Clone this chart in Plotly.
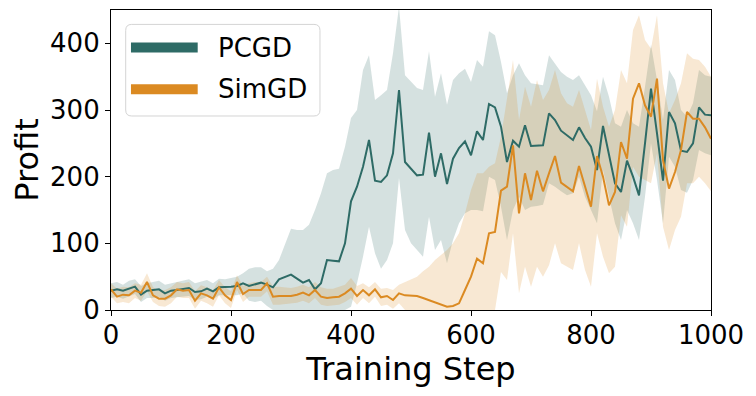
import plotly.graph_objects as go

# training steps (every 10 steps)
steps = list(range(0, 1001, 10))

pcgd_mean = [
    29, 31, 29, 32, 35, 23, 29, 30, 31, 25,
    29, 30, 31, 33, 27, 28, 32, 28, 34, 34,
    35, 36, 40, 36, 38, 41, 38, 34, 46, 50,
    53, 47, 41, 45, 31, 40, 75, 74, 73, 100,
    163, 185, 215, 255, 194, 192, 202, 235, 330, 222,
    212, 202, 203, 266, 200, 235, 189, 227, 243, 253,
    232, 268, 255, 309, 304, 275, 222, 254, 245, 277,
    246, 247, 247, 295, 285, 269, 262, 255, 274, 258,
    245, 210, 276, 235, 190, 177, 224, 200, 172, 250,
    332, 265, 194, 297, 280, 239, 237, 250, 304, 293, 292,
]
pcgd_upper = [
    40, 42, 38, 44, 46, 36, 40, 42, 44, 38,
    40, 42, 44, 46, 40, 42, 45, 40, 47, 46,
    48, 50, 55, 62, 64, 64, 58, 62, 75, 100,
    122, 120, 120, 128, 150, 175, 205, 210, 212, 245,
    288, 300, 360, 382, 315, 322, 330, 385, 455, 352,
    342, 333, 330, 388, 320, 355, 308, 345, 355, 362,
    342, 375, 365, 418, 412, 372, 325, 352, 370, 352,
    340, 339, 337, 382, 370, 357, 350, 345, 352, 337,
    322, 298, 350, 320, 280, 275, 300, 280, 275, 335,
    398, 345, 285, 360, 345, 300, 290, 310, 360, 352, 350,
]
pcgd_lower = [
    18, 20, 17, 20, 24, 12, 18, 18, 20, 14,
    18, 19, 20, 21, 15, 16, 20, 16, 22, 22,
    22, 22, 25, 14, 12, 14, 6, 0, 0, 0,
    0, 0, 0, 0, 0, 0, 0, 0, 0, 0,
    5, 40, 80, 125, 85, 62, 75, 100, 198, 120,
    100, 90, 80, 140, 90, 105, 70, 105, 130, 145,
    150, 150, 148, 200, 195, 155, 105, 150, 170, 150,
    155, 156, 158, 190, 185, 178, 172, 175, 200, 170,
    150, 130, 210, 170, 130, 105, 150, 130, 105, 170,
    250, 195, 130, 230, 215, 180, 176, 195, 240, 235, 232,
]

simgd_mean = [
    31, 20, 23, 22, 29, 26, 42, 22, 17, 17,
    22, 31, 29, 30, 14, 25, 22, 17, 34, 22,
    15, 42, 24, 30, 30, 30, 40, 20, 21, 21,
    21, 23, 26, 22, 30, 20, 18, 19, 20, 25,
    32, 21, 30, 22, 31, 19, 21, 15, 25, 22,
    22, 21, 18, 15, 12, 9, 5, 6, 10, 30,
    50, 77, 70, 115, 117, 179, 185, 247, 145, 205,
    165, 209, 178, 205, 231, 191, 184, 178, 216, 187,
    155, 231, 200, 157, 177, 252, 227, 317, 340, 307,
    290, 347, 225, 182, 207, 240, 297, 287, 287, 274, 257,
]
simgd_upper = [
    40, 32, 35, 34, 40, 38, 55, 34, 29, 30,
    34, 42, 40, 42, 28, 37, 34, 30, 45, 34,
    28, 52, 36, 40, 42, 42, 50, 35, 35, 34,
    33, 35, 38, 34, 42, 34, 32, 32, 35, 38,
    48, 36, 40, 34, 42, 32, 33, 30, 38, 42,
    45, 50, 58, 65, 75, 82, 90, 100, 115, 145,
    180, 205, 205, 215, 220, 260, 320, 375, 285, 335,
    305, 345, 315, 330, 360, 325, 310, 305, 330, 300,
    270, 347, 305, 275, 300, 360, 340, 420, 442, 405,
    392, 442, 340, 295, 315, 340, 385, 377, 375, 365, 350,
]
simgd_lower = [
    20, 10, 12, 10, 18, 14, 28, 12, 6, 5,
    10, 20, 18, 18, 2, 14, 10, 5, 22, 10,
    3, 30, 12, 20, 20, 20, 28, 8, 8, 9,
    10, 11, 14, 10, 18, 8, 6, 7, 8, 12,
    18, 8, 18, 10, 20, 6, 8, 2, 10, 0,
    0, 0, 0, 0, 0, 0, 0, 0, 0, 0,
    0, 0, 0, 0, 0, 57, 45, 115, 25, 65,
    35, 65, 50, 67, 100, 70, 65, 60, 100, 60,
    35, 115, 80, 55, 65, 142, 125, 215, 200, 195,
    190, 235, 125, 90, 120, 140, 190, 190, 200, 190, 178,
]

TEAL = "#2e6b66"
ORANGE = "#db8a22"
FONT = "DejaVu Sans"

fig = go.Figure()

# shaded bands
for upper, lower, fillcol in [
    (pcgd_upper, pcgd_lower, "rgba(46,107,102,0.2)"),
    (simgd_upper, simgd_lower, "rgba(219,138,34,0.2)"),
]:
    fig.add_scatter(x=steps, y=upper, mode="lines", line=dict(width=0),
                    showlegend=False, hoverinfo="skip")
    fig.add_scatter(x=steps, y=lower, mode="lines", line=dict(width=0),
                    fill="tonexty", fillcolor=fillcol,
                    showlegend=False, hoverinfo="skip")

fig.add_scatter(x=steps, y=pcgd_mean, mode="lines", name="PCGD",
                line=dict(color=TEAL, width=2), showlegend=False)
fig.add_scatter(x=steps, y=simgd_mean, mode="lines", name="SimGD",
                line=dict(color=ORANGE, width=2), showlegend=False)

# hand-made legend (matplotlib style: rounded box, long swatches)
x0, x1, y0, y1 = 0.0245, 0.3483, 0.6467, 0.952
rx, ry = 0.01, 0.02
box = (f"M {x0+rx},{y0} L {x1-rx},{y0} Q {x1},{y0} {x1},{y0+ry} "
       f"L {x1},{y1-ry} Q {x1},{y1} {x1-rx},{y1} L {x0+rx},{y1} "
       f"Q {x0},{y1} {x0},{y1-ry} L {x0},{y0+ry} Q {x0},{y0} {x0+rx},{y0} Z")
fig.add_shape(type="path", path=box, xref="paper", yref="paper",
              fillcolor="rgba(255,255,255,0.8)",
              line=dict(color="#d4d4d4", width=1), layer="above")
for name, col, yy in [("PCGD", TEAL, 0.875), ("SimGD", ORANGE, 0.736)]:
    fig.add_shape(type="line", xref="paper", yref="paper",
                  x0=0.0333, x1=0.1445, y0=yy, y1=yy,
                  line=dict(color=col, width=10), layer="above")
    fig.add_annotation(x=0.175, y=yy, xref="paper", yref="paper",
                       text=name, showarrow=False, xanchor="left",
                       yanchor="middle", font=dict(size=26, color="black", family=FONT))

axis_style = dict(
    showline=True, linecolor="black", linewidth=1.2, mirror=True,
    ticks="outside", ticklen=5, tickwidth=1.2, tickcolor="black",
    showgrid=False, zeroline=False, automargin=False,
    tickfont=dict(size=26, color="black", family=FONT),
)
fig.update_xaxes(range=[0, 1000], tickvals=[0, 200, 400, 600, 800, 1000],
                 ticklabelstandoff=-3,
                 title=dict(text="Training Step", standoff=0,
                            font=dict(size=32, color="black", family=FONT)),
                 **axis_style)
fig.update_yaxes(range=[0, 450], tickvals=[0, 100, 200, 300, 400],
                 title=dict(text="Profit", standoff=2,
                            font=dict(size=32, color="black", family=FONT)),
                 **axis_style)

# page body adds an 8px offset, margins compensate
fig.update_layout(
    width=756, height=396,
    margin=dict(l=103, r=53, t=2, b=94),
    paper_bgcolor="white", plot_bgcolor="white",
    font=dict(family=FONT),
)

fig.write_html("out.html")
